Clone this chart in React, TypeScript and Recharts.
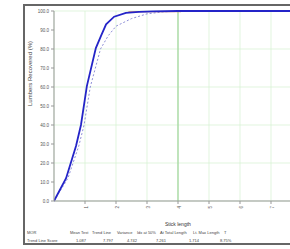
import React from 'react';
import { LineChart, Line, XAxis, YAxis, CartesianGrid, ReferenceLine } from 'recharts';

const measuredX = [0, 0.39, 0.71, 0.87, 1.06, 1.35, 1.52, 1.68, 1.94, 2.32, 2.74, 3.2, 4.0, 5.0, 6.0, 7.0, 8.0];
const measuredY = [0, 12, 29, 40, 60.5, 80.5, 87, 93, 97, 99, 99.5, 99.8, 100, 100, 100, 100, 100];

const trendX = [0, 0.45, 0.8, 0.97, 1.17, 1.5, 1.75, 2.0, 2.5, 3.0, 3.5, 4.0];
const trendY = [0, 12, 29, 40, 60, 80, 87, 92, 96, 98.5, 99.5, 100];

const maxX = [2.4, 3.0, 3.6, 4.1];
const maxY = [99.6, 99.7, 99.6, 99.7];

const xTicks = [1, 2, 3, 4, 5, 6, 7];
const yTicks = [0, 10, 20, 30, 40, 50, 60, 70, 80, 90, 100];

const headers = ['MOR', 'Mean Test', 'Trend Line', 'Variance', 'Idx at 50%', 'At Total Length', 'Lt. Max Length', 'T'];
const scores = ['Trend Line Score', '1.087', '7.797', '4.742', '7.261', '1.714', '8.75%'];
const headerX = [27, 70, 92, 117, 137, 160, 193, 224];
const scoreX = [27, 76, 103, 127, 156, 189, 220];

const measured = measuredX.map((x, i) => ({ x, y: measuredY[i] }));
const trend = trendX.map((x, i) => ({ x, y: trendY[i] }));
const maxLine = maxX.map((x, i) => ({ x, y: maxY[i] }));

const small = { fontSize: 4.5, fill: '#555', fontFamily: 'Liberation Sans, Arial, sans-serif' };

export default function App() {
    return (
        <div style={{ position: 'absolute', left: 0, top: 0, width: 290, height: 249, overflow: 'hidden', background: '#fff', fontFamily: 'Liberation Sans, Arial, sans-serif' }}>
            <div style={{ position: 'absolute', left: 23, top: 4, width: 300, height: 241, border: '2px solid #666', boxSizing: 'border-box' }} />
            <div style={{ position: 'absolute', left: 0, top: 0 }}>
                <LineChart width={302} height={221} margin={{ top: 11, right: 0, bottom: 0, left: 0 }}>
                    <CartesianGrid stroke="#d4f0d0" strokeWidth={0.7} />
                    <XAxis
                        type="number"
                        dataKey="x"
                        domain={[0, 8]}
                        ticks={xTicks}
                        height={20}
                        stroke="#999"
                        tick={{ ...small, angle: -90, textAnchor: 'end' }}
                        tickSize={3}
                        allowDataOverflow
                    />
                    <YAxis
                        type="number"
                        dataKey="y"
                        domain={[0, 100]}
                        ticks={yTicks}
                        width={54}
                        stroke="#999"
                        tickSize={3}
                        tick={small}
                        tickFormatter={(v) => v.toFixed(1)}
                        label={{ value: 'Lumbers Recovered (%)', angle: -90, position: 'insideLeft', offset: 30, style: { fontSize: 6, fill: '#444' } }}
                    />
                    <ReferenceLine x={4} stroke="#9fd69a" strokeWidth={1.2} />
                    <Line data={trend} dataKey="y" type="linear" stroke="#8f8fd8" strokeWidth={1} strokeDasharray="2 2" dot={false} isAnimationActive={false} />
                    <Line data={maxLine} dataKey="y" type="linear" stroke="#e09070" strokeWidth={1.2} dot={false} isAnimationActive={false} />
                    <Line data={measured} dataKey="y" type="linear" stroke="#2424c8" strokeWidth={1.8} dot={false} isAnimationActive={false} />
                </LineChart>
            </div>
            <div style={{ position: 'absolute', left: 165, top: 221, fontSize: 5, color: '#333' }}>Stick length</div>
            {headers.map((h, i) => (
                <div key={'h' + i} style={{ position: 'absolute', left: headerX[i], top: 230, fontSize: 4, color: '#444', whiteSpace: 'nowrap' }}>{h}</div>
            ))}
            {scores.map((s, i) => (
                <div key={'s' + i} style={{ position: 'absolute', left: scoreX[i], top: 238, fontSize: 4, color: '#444', whiteSpace: 'nowrap' }}>{s}</div>
            ))}
        </div>
    );
}
